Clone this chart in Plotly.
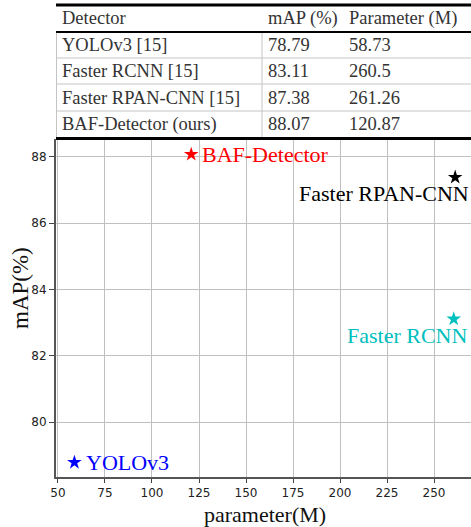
import plotly.graph_objects as go

# Detector comparison data
detectors = ["YOLOv3", "Faster RCNN", "Faster RPAN-CNN", "BAF-Detector"]
table_names = ["YOLOv3 [15]", "Faster RCNN [15]", "Faster RPAN-CNN [15]", "BAF-Detector (ours)"]
map_vals = [78.79, 83.11, 87.38, 88.07]
params = [58.73, 260.5, 261.26, 120.87]
header = ["Detector", "mAP (%)", "Parameter (M)"]
x_ticks = [50, 75, 100, 125, 150, 175, 200, 225, 250]
y_ticks = [80, 82, 84, 86, 88]

colors = ["#0000ff", "#00bfbf", "#000000", "#ff0000"]
# label placement per point: (xanchor, xshift, yshift)
label_pos = [("left", 10, 0), ("right", 16, -16), ("right", 16, -16), ("left", 9, 0)]

W_FIG, H_FIG = 471, 527
L, R, T, B = 56, 471, 139, 477
SERIF = "Liberation Serif, Times New Roman, serif"


def pxx(x):
    return (x - L) / (R - L)


def pxy(y):
    return (B - y) / (B - T)


fig = go.Figure()
fig.add_trace(go.Scatter(
    x=params, y=map_vals, mode="markers",
    marker=dict(symbol="star", size=11, color=colors, line=dict(width=0)),
    showlegend=False, hoverinfo="skip",
))

annotations = []
for name, xv, yv, c, (anc, xs, ys) in zip(detectors, params, map_vals, colors, label_pos):
    annotations.append(dict(
        x=xv, y=yv, xref="x", yref="y", text=name, showarrow=False,
        xanchor=anc, yanchor="middle", xshift=xs, yshift=ys,
        font=dict(family=SERIF, size=22, color=c),
    ))

# Table above the plot
col_x = [60, 266, 347]
header_y = 18.5
row_y = [45, 71, 97.5, 124.5]
tcolor = "#333333"
for cx, h in zip(col_x, header):
    annotations.append(dict(
        x=pxx(cx), y=pxy(header_y), xref="paper", yref="paper", text=h,
        showarrow=False, xanchor="left", yanchor="middle",
        font=dict(family=SERIF, size=18.5, color=tcolor),
    ))
for ry, nm, mv, pv in zip(row_y, table_names, map_vals, params):
    for cx, txt in zip(col_x, [nm, f"{mv:g}", f"{pv:g}"]):
        annotations.append(dict(
            x=pxx(cx), y=pxy(ry), xref="paper", yref="paper", text=txt,
            showarrow=False, xanchor="left", yanchor="middle",
            font=dict(family=SERIF, size=18.5, color=tcolor),
        ))

# Axis titles
annotations.append(dict(
    x=pxx(265), y=pxy(514), xref="paper", yref="paper", text="parameter(M)",
    showarrow=False, xanchor="center", yanchor="middle",
    font=dict(family=SERIF, size=22, color="#111111"),
))
annotations.append(dict(
    x=pxx(20), y=pxy(288), xref="paper", yref="paper", text="mAP(%)",
    showarrow=False, xanchor="center", yanchor="middle", textangle=-90,
    font=dict(family=SERIF, size=23, color="#111111"),
))

shapes = []


def hline(y, width, color, x0=56, x1=471):
    shapes.append(dict(type="line", xref="paper", yref="paper",
                       x0=pxx(x0), x1=pxx(x1), y0=pxy(y), y1=pxy(y),
                       line=dict(color=color, width=width)))


def vline(x, y0, y1, width, color):
    shapes.append(dict(type="line", xref="paper", yref="paper",
                       x0=pxx(x), x1=pxx(x), y0=pxy(y0), y1=pxy(y1),
                       line=dict(color=color, width=width)))


vline(56.5, 32, 138.5, 1, "#c4c4c4")
vline(262, 32, 138.5, 1, "#c4c4c4")
for yy in [58, 84, 111]:
    hline(yy, 1, "#c4c4c4")
hline(5, 3, "#000000")
hline(32, 2, "#000000")
hline(138.5, 3, "#000000")

fig.update_layout(
    width=W_FIG, height=H_FIG,
    margin=dict(l=L, r=W_FIG - R, t=T, b=H_FIG - B, pad=0),
    paper_bgcolor="white", plot_bgcolor="white",
    annotations=annotations, shapes=shapes,
    xaxis=dict(
        range=[48.94, 269.68], tickvals=x_ticks, ticks="outside", ticklen=4,
        tickcolor="#444444", showgrid=True, gridcolor="#c0c0c0", gridwidth=1,
        showline=True, linecolor="#555555", linewidth=2, zeroline=False,
        tickfont=dict(family="DejaVu Sans", size=12, color="#222222"),
    ),
    yaxis=dict(
        range=[78.35, 88.533], tickvals=y_ticks, ticks="outside", ticklen=5,
        tickcolor="#444444", showgrid=True, gridcolor="#c0c0c0", gridwidth=1,
        showline=True, linecolor="#555555", linewidth=2, zeroline=False,
        tickfont=dict(family="DejaVu Sans", size=12, color="#222222"),
    ),
)

fig.write_html("out.html")
